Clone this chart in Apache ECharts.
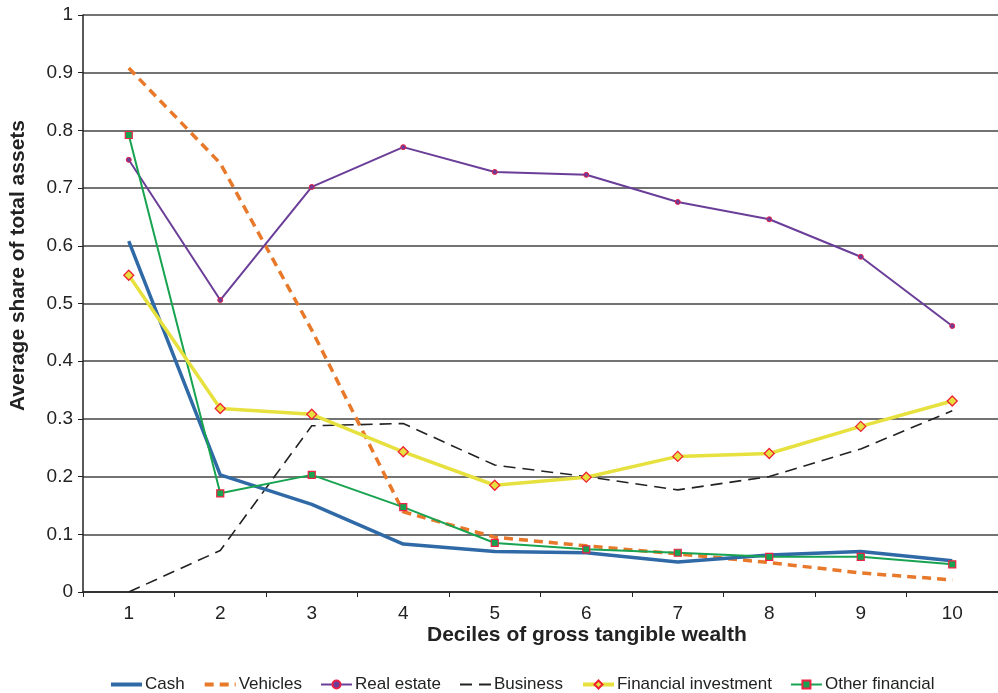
<!DOCTYPE html>
<html>
<head>
<meta charset="utf-8">
<script src="https://cdn.jsdelivr.net/npm/echarts@6/dist/echarts.min.js"></script>
<style>
html,body{margin:0;padding:0;background:#fff;}
#chart{width:998px;height:693px;}
</style>
</head>
<body>
<div id="chart"></div>
<script>
var categories = ['1','2','3','4','5','6','7','8','9','10'];
var cash = [0.608, 0.203, 0.152, 0.083, 0.070, 0.068, 0.052, 0.064, 0.070, 0.054];
var vehicles = [0.908, 0.743, 0.454, 0.139, 0.095, 0.080, 0.066, 0.051, 0.033, 0.021];
var realEstate = [0.749, 0.506, 0.702, 0.771, 0.728, 0.723, 0.676, 0.646, 0.581, 0.461];
var business = [0.000, 0.072, 0.288, 0.292, 0.220, 0.200, 0.177, 0.200, 0.248, 0.314];
var financialInvestment = [0.549, 0.318, 0.308, 0.243, 0.185, 0.199, 0.235, 0.240, 0.287, 0.331];
var otherFinancial = [0.792, 0.171, 0.203, 0.147, 0.085, 0.074, 0.068, 0.061, 0.061, 0.048];
var yTicks = ['0','0.1','0.2','0.3','0.4','0.5','0.6','0.7','0.8','0.9','1'];

var FONT = 'Liberation Sans, Arial, sans-serif';
var chart = echarts.init(document.getElementById('chart'));
chart.setOption({
  animation: false,
  backgroundColor: '#fff',
  textStyle: {fontFamily: FONT},
  grid: {left: 83, top: 15, width: 917, height: 577, containLabel: false},
  legend: {
    top: 671, left: 104, itemWidth: 31, itemHeight: 10, itemGap: 18,
    textStyle: {fontSize: 17, color: '#222', fontFamily: FONT, padding: [0,0,0,-2]},
    data: [
      {name: 'Cash', itemStyle: {opacity: 0}, lineStyle: {width: 4}},
      {name: 'Vehicles', itemStyle: {opacity: 0}, lineStyle: {width: 4}},
      {name: 'Real estate'},
      {name: 'Business', itemStyle: {opacity: 0}},
      {name: 'Financial investment', lineStyle: {width: 4}},
      {name: 'Other financial'}
    ]
  },
  xAxis: {
    type: 'category', data: categories, boundaryGap: true,
    axisLine: {lineStyle: {color: '#222', width: 1.5}},
    axisTick: {show: true, length: 5, lineStyle: {color: '#222'}},
    axisLabel: {fontSize: 19, color: '#222', margin: 12, fontFamily: FONT},
    splitLine: {show: false}
  },
  yAxis: {
    type: 'value', min: 0, max: 1, interval: 0.1,
    axisLine: {show: true, lineStyle: {color: '#222', width: 1.5}},
    axisTick: {show: true, length: 5, lineStyle: {color: '#222'}},
    axisLabel: {fontSize: 19, color: '#222', margin: 10, fontFamily: FONT,
      formatter: function (v) { return yTicks[Math.round(v * 10)]; }},
    splitLine: {show: true, lineStyle: {color: '#444', width: 1.5}}
  },
  graphic: [
    {type: 'text', left: 8, top: 120, rotation: Math.PI / 2, originX: 0, originY: 0,
     style: {text: 'Average share of total assets', fill: '#222', font: 'bold 21px Liberation Sans, Arial, sans-serif'}},
    {type: 'text', left: 427, top: 625,
     style: {text: 'Deciles of gross tangible wealth', fill: '#222', font: 'bold 21px Liberation Sans, Arial, sans-serif'}}
  ],
  series: [
    {name: 'Cash', type: 'line', data: cash, symbol: 'none', z: 3,
     lineStyle: {color: '#2f6aa7', width: 3.5}, itemStyle: {color: '#2f6aa7'}},
    {name: 'Vehicles', type: 'line', data: vehicles, symbol: 'none', z: 2,
     lineStyle: {color: '#e8782a', width: 3.5, type: [9, 6]}, itemStyle: {color: '#e8782a'}},
    {name: 'Real estate', type: 'line', data: realEstate, symbol: 'circle', symbolSize: 5, z: 4,
     lineStyle: {color: '#6a3e98', width: 2}, itemStyle: {color: '#6a3e98', borderColor: '#e8204a', borderWidth: 1}},
    {name: 'Business', type: 'line', data: business, symbol: 'none', z: 2,
     lineStyle: {color: '#222', width: 1.6, type: [12, 7]}, itemStyle: {color: '#222'}},
    {name: 'Financial investment', type: 'line', data: financialInvestment, symbol: 'diamond', symbolSize: 10, z: 5,
     lineStyle: {color: '#e6e13e', width: 3.5}, itemStyle: {color: '#e6e13e', borderColor: '#ee2233', borderWidth: 1.3}},
    {name: 'Other financial', type: 'line', data: otherFinancial, symbol: 'rect', symbolSize: 7, z: 4,
     lineStyle: {color: '#17a350', width: 2}, itemStyle: {color: '#17a350', borderColor: '#ee2244', borderWidth: 1.2}}
  ]
});
</script>
</body>
</html>
